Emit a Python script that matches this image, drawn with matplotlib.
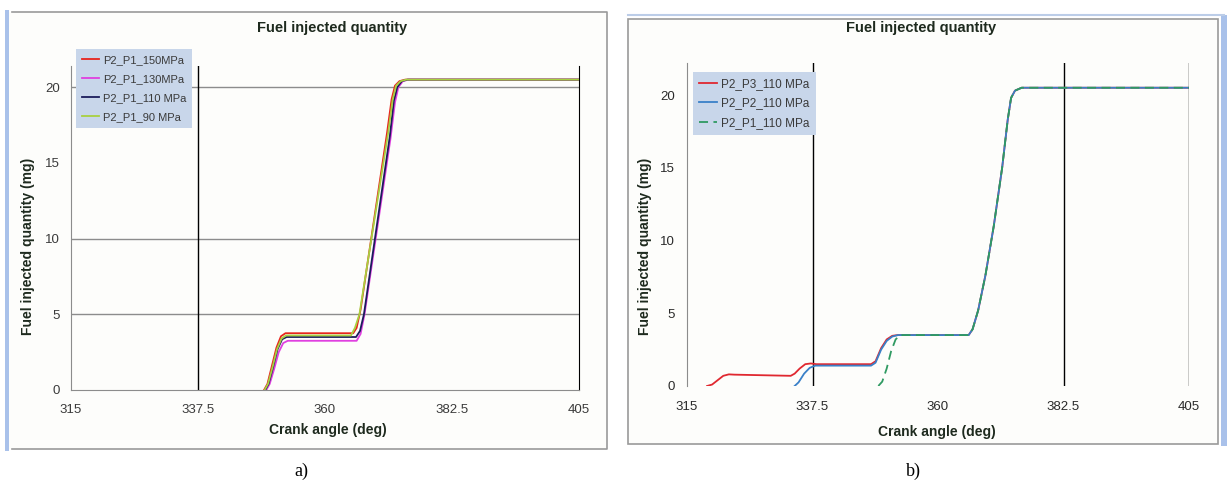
import matplotlib
matplotlib.use("Agg")
import matplotlib.pyplot as plt
from matplotlib.patches import Rectangle
from matplotlib.lines import Line2D

W, H = 1227, 493

# ---- data: panel a) pressure sweep ----
a_labels = ["P2_P1_150MPa", "P2_P1_130MPa", "P2_P1_110 MPa", "P2_P1_90 MPa"]
a_colors = ["#e8241c", "#e040e0", "#1c1c5c", "#a8d040"]
a_x = [
    [349.2, 349.8, 350.6, 351.4, 352.2, 353.0, 365.0, 365.6, 366.3, 371.0, 371.8, 372.4, 373.2, 374.2, 405],
    [349.6, 350.2, 351.0, 351.8, 352.6, 353.4, 365.6, 366.3, 367.0, 371.6, 372.4, 373.0, 373.8, 374.8, 405],
    [349.4, 350.0, 350.8, 351.6, 352.4, 353.2, 365.5, 366.2, 366.9, 371.5, 372.2, 372.8, 373.6, 374.6, 405],
    [349.3, 349.9, 350.7, 351.5, 352.3, 353.1, 364.6, 365.3, 366.1, 371.2, 372.0, 372.6, 373.4, 374.4, 405],
]
a_y = [
    [0, 0.4, 1.6, 2.8, 3.55, 3.75, 3.75, 4.1, 5.3, 17.0, 19.2, 20.1, 20.4, 20.5, 20.5],
    [0, 0.4, 1.4, 2.5, 3.1, 3.25, 3.25, 3.7, 5.0, 16.6, 19.0, 20.0, 20.4, 20.5, 20.5],
    [0, 0.4, 1.5, 2.7, 3.35, 3.5, 3.5, 3.9, 5.0, 16.8, 19.1, 20.0, 20.4, 20.5, 20.5],
    [0, 0.4, 1.5, 2.7, 3.4, 3.6, 3.6, 4.1, 5.0, 17.0, 19.2, 20.1, 20.4, 20.5, 20.5],
]

# ---- data: panel b) number of pilot injections ----
b_labels = ["P2_P3_110 MPa", "P2_P2_110 MPa", "P2_P1_110 MPa"]
b_colors = ["#e02830", "#3a80c8", "#2f9a62"]
main_x = [365.5, 366.2, 367.2, 368.5, 370.0, 371.5, 372.5, 373.1, 373.8, 375.0, 405]
main_y = [3.5, 3.9, 5.2, 7.6, 11.0, 15.0, 18.3, 19.8, 20.3, 20.5, 20.5]
b_x = [
    [318.6, 319.5, 320.5, 321.5, 322.5, 323.5, 333.6, 334.3, 335.2, 336.2, 337.2, 338.2,
     348.0, 348.8, 349.8, 350.8, 351.8, 352.8] + main_x,
    [334.3, 335.0, 336.0, 337.0, 338.0, 348.0, 348.8, 349.8, 350.8, 351.8, 352.8] + main_x,
    [349.3, 350.0, 350.8, 351.6, 352.4, 353.2] + main_x,
]
b_y = [
    [0, 0.1, 0.4, 0.7, 0.8, 0.78, 0.7, 0.85, 1.2, 1.5, 1.55, 1.5,
     1.5, 1.7, 2.6, 3.2, 3.45, 3.5] + main_y,
    [0, 0.25, 0.85, 1.25, 1.4, 1.4, 1.6, 2.5, 3.1, 3.4, 3.5] + main_y,
    [0, 0.3, 1.2, 2.4, 3.2, 3.5] + main_y,
]

x_ticks = [315, 337.5, 360, 382.5, 405]
x_tick_labels = ["315", "337.5", "360", "382.5", "405"]
y_ticks = [0, 5, 10, 15, 20]

SANS = ["Liberation Sans", "DejaVu Sans"]
TXT = "#1e2a1e"


def fx(px):
    return px / W


def fy(py):
    return 1 - py / H


def frect(x0, y0, x1, y1):
    # pixel box -> figure rect [left, bottom, width, height]
    return [fx(x0), fy(y1), (x1 - x0) / W, (y1 - y0) / H]


def fline(fig, xs, ys, color, lw):
    fig.add_artist(Line2D([fx(v) for v in xs], [fy(v) for v in ys],
                          color=color, lw=lw, transform=fig.transFigure, zorder=-5))


def fbox(fig, x0, y0, x1, y1, **kw):
    fig.add_artist(Rectangle((fx(x0), fy(y1)), (x1 - x0) / W, (y1 - y0) / H,
                             transform=fig.transFigure, zorder=-10, **kw))


fig = plt.figure(figsize=(W / 100, H / 100), dpi=100)
fig.patch.set_facecolor("white")

# ---- panel frames ----
fbox(fig, 9, 12, 607, 449, facecolor="#fdfdfb", edgecolor="none")
fbox(fig, 5, 10, 9, 451, facecolor="#a9c1ea", edgecolor="none")
fline(fig, [12, 607, 607, 12], [12, 12, 449, 449], "#9a9a9a", 1.2)

fbox(fig, 628, 19, 1218, 444, facecolor="#fdfdfb", edgecolor="#9a9a9a", lw=1.2)
fline(fig, [628, 1224], [15, 15], "#bccde8", 1.5)
fbox(fig, 1221, 15, 1227, 446, facecolor="#a9c1ea", edgecolor="none")


def style_axes(ax, ylim_top, tick_color, xpad, ypad):
    ax.set_facecolor("none")
    ax.set_xlim(315, 405)
    ax.set_ylim(0, ylim_top)
    ax.set_xticks(x_ticks)
    ax.set_xticklabels(x_tick_labels)
    ax.set_yticks(y_ticks)
    ax.tick_params(length=0, labelsize=9.5, labelcolor=tick_color)
    ax.tick_params(axis="x", pad=xpad)
    ax.tick_params(axis="y", pad=ypad)
    for lab in ax.get_xticklabels() + ax.get_yticklabels():
        lab.set_family(SANS)
    ax.set_xlabel("Crank angle (deg)", fontsize=10, fontweight="bold", color=TXT,
                  family=SANS)
    ax.set_ylabel("Fuel injected quantity (mg)", fontsize=10, fontweight="bold",
                  color=TXT, family=SANS)


# ---- panel a) ----
ax1 = fig.add_axes(frect(71, 66, 579, 390))
style_axes(ax1, 21.4, "#3a3a3a", 10, 8)
ax1.spines["top"].set_visible(False)
ax1.spines["left"].set_color("#8c8c8c")
ax1.spines["bottom"].set_color("#8c8c8c")
ax1.spines["right"].set_color("black")
for v in [5, 10, 20]:
    ax1.axhline(v, color="#8c8c8c", lw=1, zorder=1)
ax1.axvline(337.5, color="black", lw=1, zorder=1)

handles = []
for xs, ys, c, lab in zip(a_x, a_y, a_colors, a_labels):
    h, = ax1.plot(xs, ys, color=c, lw=1.3, label=lab, zorder=3)
    handles.append(h)
ax1.yaxis.set_label_coords(fx(35), 0.5, transform=fig.transFigure)
ax1.xaxis.set_label_coords(fx(328), fy(423), transform=fig.transFigure)
fig.text(fx(332), fy(28), "Fuel injected quantity", ha="center", va="center",
         fontsize=10.5, fontweight="bold", color=TXT, family=SANS)

leg1 = ax1.legend(handles=handles, loc="upper left",
                  bbox_to_anchor=(fx(76), fy(49)), bbox_transform=fig.transFigure,
                  frameon=True, fancybox=False, facecolor="#c8d6ea", edgecolor="none",
                  framealpha=1, borderaxespad=0, handlelength=1.5, handletextpad=0.35,
                  labelspacing=0.8, borderpad=0.55,
                  prop={"family": SANS, "size": 8})
for t in leg1.get_texts():
    t.set_color("#3a3a3a")

# ---- panel b) ----
ax2 = fig.add_axes(frect(687, 63, 1189, 386))
style_axes(ax2, 22.2, "#2a2a2a", 11, 8.5)
for s in ["top", "right", "bottom"]:
    ax2.spines[s].set_visible(False)
ax2.spines["left"].set_color("#8c8c8c")
for v in [337.5, 382.5, 405]:
    ax2.axvline(v, color="black", lw=1, zorder=1)

handles2 = []
styles = ["-", "-", (0, (5, 3))]
for xs, ys, c, ls, lab in zip(b_x, b_y, b_colors, styles, b_labels):
    h, = ax2.plot(xs, ys, color=c, lw=1.3, ls=ls, label=lab, zorder=3)
    handles2.append(h)
ax2.yaxis.set_label_coords(fx(652), 0.5, transform=fig.transFigure)
ax2.xaxis.set_label_coords(fx(937), fy(425), transform=fig.transFigure)
fig.text(fx(921), fy(28), "Fuel injected quantity", ha="center", va="center",
         fontsize=10.5, fontweight="bold", color=TXT, family=SANS)

leg2 = ax2.legend(handles=handles2, loc="upper left",
                  bbox_to_anchor=(fx(693), fy(72)), bbox_transform=fig.transFigure,
                  frameon=True, fancybox=False, facecolor="#c8d6ea", edgecolor="none",
                  framealpha=1, borderaxespad=0, handlelength=1.5, handletextpad=0.35,
                  labelspacing=0.6, borderpad=0.55,
                  prop={"family": SANS, "size": 8.5})
for t in leg2.get_texts():
    t.set_color("#3a3a3a")

# ---- sub captions ----
fig.text(fx(301), fy(471), "a)", ha="center", va="center", fontsize=13,
         family=["Liberation Serif", "DejaVu Serif"])
fig.text(fx(913), fy(471), "b)", ha="center", va="center", fontsize=13,
         family=["Liberation Serif", "DejaVu Serif"])

fig.savefig("out.png", dpi=100)
